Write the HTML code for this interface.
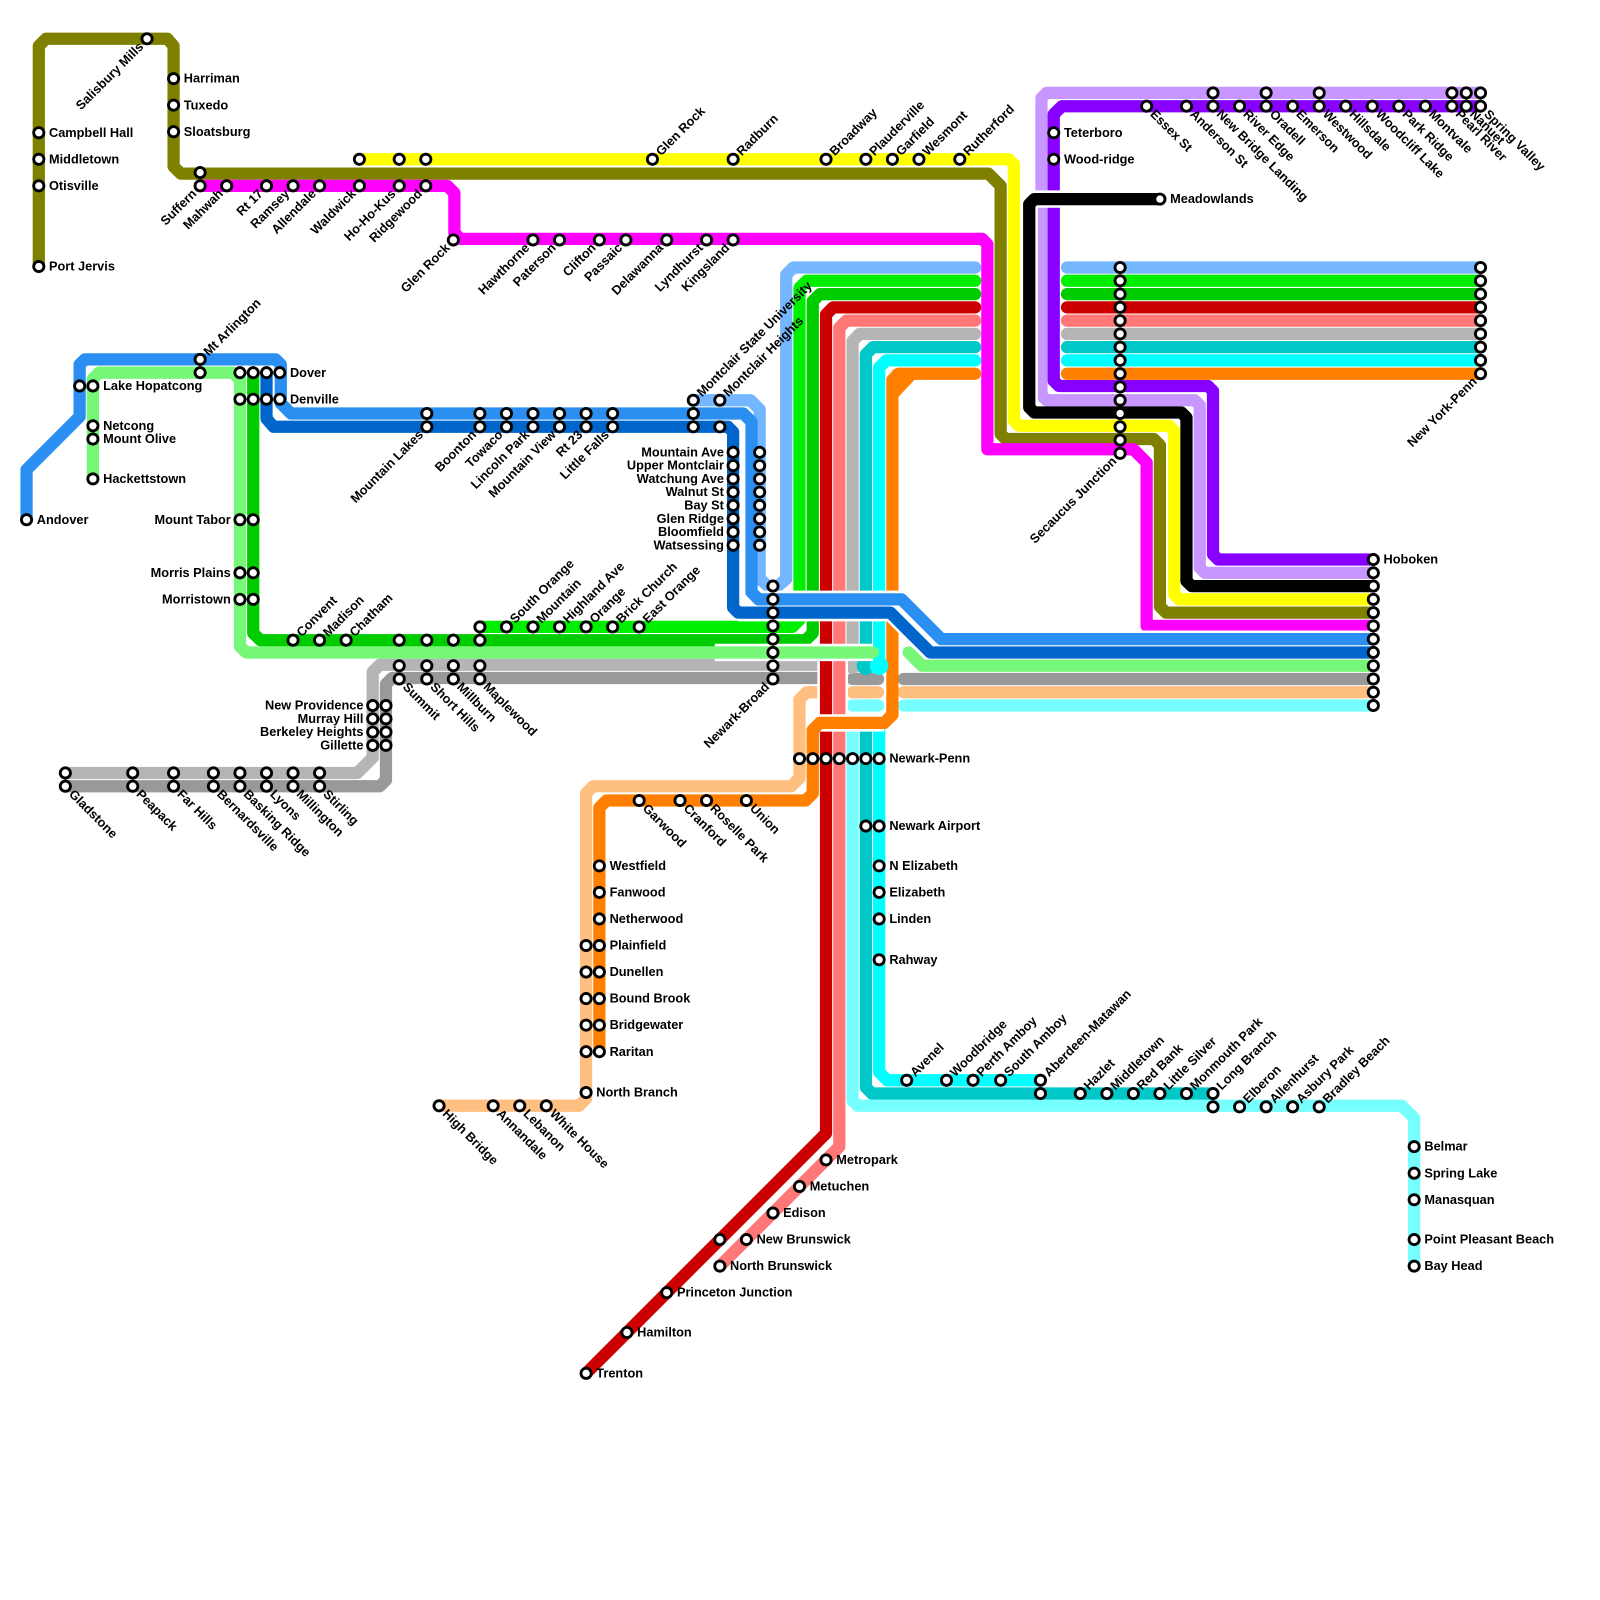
<!DOCTYPE html>
<html><head><meta charset="utf-8"><style>
html,body{margin:0;padding:0;background:#fff}
svg{display:block}
text{font-family:"Liberation Sans",sans-serif;font-weight:bold;font-size:12.5px;fill:#000}
.e{text-anchor:end}
.L path{fill:none;stroke-width:12;stroke-linecap:round;stroke-linejoin:round}
.C path{fill:none;stroke:#fff;stroke-width:17;stroke-linecap:butt;stroke-linejoin:round}
circle.s{fill:#fff;stroke:#000;stroke-width:2.8}
</style></head><body>
<svg width="1600" height="1600" viewBox="0 0 1567 1567" xmlns="http://www.w3.org/2000/svg">
<g class="L">
<path stroke="#808000" d="M38,261 V45 L45,38 H164 L170,45 V163 L177,170 H968 L980,182 V425 L985,430 H1130 L1136,436 V594 L1142,600 H1345"/>
<path stroke="#ffff00" d="M352,156 H988 L993,161 V412 L998,417 H1145 L1150,422 V582 L1155,587 H1345"/>
<path stroke="#ff00ff" d="M196,182 H438 L445,189 V228 L451,234 H962 L967,239 V440 H1110 L1123,453 V613 H1345"/>
<path stroke="#c896ff" d="M1450,91 H1025 L1020,96 V387 L1025,392 H1170 L1175,397 V556 L1180,561 H1345"/>
<path stroke="#8800ff" d="M1450,104 H1040 L1032,112 V373 L1037,378 H1183 L1188,383 V543 L1193,548 H1345"/>
<path stroke="#74b6ff" d="M1045,262 H1450"/>
<path stroke="#00ee00" d="M1045,275 H1450"/>
<path stroke="#00cc00" d="M1045,288 H1450"/>
<path stroke="#cc0000" d="M1045,301 H1450"/>
<path stroke="#ff7777" d="M1045,314 H1450"/>
<path stroke="#b5b5b5" d="M1045,327 H1450"/>
<path stroke="#00c8c8" d="M1045,340 H1450"/>
<path stroke="#00ffff" d="M1045,353 H1450"/>
<path stroke="#ff8000" d="M1045,366 H1450"/>
<path stroke="#b5b5b5" d="M64,757 H350 L365,742 V658 L372,651 H800"/>
<path stroke="#999999" d="M64,770 H372 L378,764 V670 L384,664 H800 M835,665 H860 M885,665 H1345"/>
<path stroke="#ffbf80" d="M1345,678 H885 M835,678 H860 M800,678 H790 L783,685 V762 L775,770 H581 L574,777 V1076 L567,1083 H430"/>
<path stroke="#77ffff" d="M1345,691 H885 M835,691 H860 M835,715 V1078 L840,1083 H1373 L1385,1095 V1240"/>
<path stroke="#00c8c8" d="M848,715 V1065 L854,1071 H1188"/>
<path stroke="#00ffff" d="M861,715 V1050 L869,1058 H1019"/>
<path stroke="#74b6ff" d="M955,262 H777 L770,269 V567 L757,578 M680,392 H735 L744,401 V567 L757,578"/>
<path stroke="#00ee00" d="M955,275 H790 L783,282 V607 L776,614 H470"/>
<path stroke="#00cc00" d="M955,288 H803 L796,295 V620 L789,627 H255 L248,620 V365"/>
<path stroke="#b5b5b5" d="M955,327 H842 L835,334 V645"/>
<path stroke="#00c8c8" d="M955,340 H855 L848,347 V645"/>
<path stroke="#00ffff" d="M955,353 H868 L861,360 V645"/>
<path stroke="#ff8000" d="M955,366 H880 L874,372 V700 L866,708 H803 L796,715 V777 L789,784 H594 L587,791 V1030"/>
</g>
<polygon points="874,362 905,362 874,395" fill="#ff8000"/>
<circle cx="835" cy="652" r="8" fill="#b5b5b5"/>
<circle cx="848" cy="652" r="9" fill="#00c8c8"/>
<circle cx="861" cy="652" r="9" fill="#00ffff"/>
<g class="C"><path d="M809,640 V700 M822,640 V700"/></g>
<g class="L">
<path stroke="#cc0000" d="M955,301 H816 L809,308 V1110 L574,1345"/>
<path stroke="#ff7777" d="M955,314 H829 L822,321 V1123 L705,1240"/>
</g>
<g class="C">
<path d="M736,587 H883 L922,626 H1345"/>
<path d="M723,600 H872 L911,639 H1345"/>
<path d="M700,639 H855"/>
<path d="M803,708 H866"/>
<path d="M1136,195 H1013 L1008,200 V399"/>
</g>
<g class="L">
<path stroke="#2a8ff0" d="M26,509 V460 L78,408 V357 L83,352 H270 L275,357 V395 L285,405 H728 L736,413 V580 L743,587 H883 L922,626 H1345"/>
<path stroke="#0066cc" d="M261,365 V410 L268,418 H713 L718,423 V595 L723,600 H872 L911,639 H1345"/>
<path stroke="#77f777" d="M91,469 V371 L97,365 H228 L235,372 V633 L241,639 H855 M890,639 L903,652 H1345"/>
<path stroke="#ff8000" d="M874,690 V700 L866,708 H803 L796,715 V730"/>
<path stroke="#000000" d="M1136,195 H1013 L1008,200 V399 L1013,404 H1157 L1162,409 V569 L1167,574 H1345"/>
</g>
<g>
<circle class="s" cx="38" cy="130" r="5"/><circle class="s" cx="38" cy="156" r="5"/><circle class="s" cx="38" cy="182" r="5"/><circle class="s" cx="38" cy="261" r="5"/><circle class="s" cx="144" cy="38" r="5"/><circle class="s" cx="170" cy="77" r="5"/><circle class="s" cx="170" cy="103" r="5"/><circle class="s" cx="170" cy="129" r="5"/><circle class="s" cx="196" cy="169" r="5"/><circle class="s" cx="196" cy="182" r="5"/>
<circle class="s" cx="222" cy="182" r="5"/><circle class="s" cx="261" cy="182" r="5"/><circle class="s" cx="287" cy="182" r="5"/><circle class="s" cx="313" cy="182" r="5"/><circle class="s" cx="352" cy="182" r="5"/><circle class="s" cx="391" cy="182" r="5"/><circle class="s" cx="417" cy="182" r="5"/><circle class="s" cx="352" cy="156" r="5"/><circle class="s" cx="391" cy="156" r="5"/><circle class="s" cx="417" cy="156" r="5"/>
<circle class="s" cx="444" cy="235" r="5"/><circle class="s" cx="522" cy="235" r="5"/><circle class="s" cx="548" cy="235" r="5"/><circle class="s" cx="587" cy="235" r="5"/><circle class="s" cx="613" cy="235" r="5"/><circle class="s" cx="653" cy="235" r="5"/><circle class="s" cx="692" cy="235" r="5"/><circle class="s" cx="718" cy="235" r="5"/>
<circle class="s" cx="639" cy="156" r="5"/><circle class="s" cx="718" cy="156" r="5"/><circle class="s" cx="809" cy="156" r="5"/><circle class="s" cx="848" cy="156" r="5"/><circle class="s" cx="874" cy="156" r="5"/><circle class="s" cx="900" cy="156" r="5"/><circle class="s" cx="940" cy="156" r="5"/>
<circle class="s" cx="1032" cy="130" r="5"/><circle class="s" cx="1032" cy="156" r="5"/><circle class="s" cx="1136" cy="195" r="5"/>
<circle class="s" cx="1123" cy="104" r="5"/><circle class="s" cx="1162" cy="104" r="5"/><circle class="s" cx="1188" cy="91" r="5"/><circle class="s" cx="1188" cy="104" r="5"/><circle class="s" cx="1214" cy="104" r="5"/><circle class="s" cx="1240" cy="91" r="5"/><circle class="s" cx="1240" cy="104" r="5"/><circle class="s" cx="1266" cy="104" r="5"/><circle class="s" cx="1292" cy="91" r="5"/><circle class="s" cx="1292" cy="104" r="5"/><circle class="s" cx="1318" cy="104" r="5"/><circle class="s" cx="1344" cy="104" r="5"/><circle class="s" cx="1370" cy="104" r="5"/><circle class="s" cx="1396" cy="104" r="5"/><circle class="s" cx="1422" cy="91" r="5"/><circle class="s" cx="1422" cy="104" r="5"/><circle class="s" cx="1436" cy="91" r="5"/><circle class="s" cx="1436" cy="104" r="5"/><circle class="s" cx="1450" cy="91" r="5"/><circle class="s" cx="1450" cy="104" r="5"/>
<circle class="s" cx="1450" cy="262" r="5"/><circle class="s" cx="1450" cy="275" r="5"/><circle class="s" cx="1450" cy="288" r="5"/><circle class="s" cx="1450" cy="301" r="5"/><circle class="s" cx="1450" cy="314" r="5"/><circle class="s" cx="1450" cy="327" r="5"/><circle class="s" cx="1450" cy="340" r="5"/><circle class="s" cx="1450" cy="353" r="5"/><circle class="s" cx="1450" cy="366" r="5"/>
<circle class="s" cx="1097" cy="262" r="5"/><circle class="s" cx="1097" cy="275" r="5"/><circle class="s" cx="1097" cy="288" r="5"/><circle class="s" cx="1097" cy="301" r="5"/><circle class="s" cx="1097" cy="314" r="5"/><circle class="s" cx="1097" cy="327" r="5"/><circle class="s" cx="1097" cy="340" r="5"/><circle class="s" cx="1097" cy="353" r="5"/><circle class="s" cx="1097" cy="366" r="5"/><circle class="s" cx="1097" cy="379" r="5"/><circle class="s" cx="1097" cy="392" r="5"/><circle class="s" cx="1097" cy="405" r="5"/><circle class="s" cx="1097" cy="418" r="5"/><circle class="s" cx="1097" cy="431" r="5"/><circle class="s" cx="1097" cy="444" r="5"/>
<circle class="s" cx="1345" cy="548" r="5"/><circle class="s" cx="1345" cy="561" r="5"/><circle class="s" cx="1345" cy="574" r="5"/><circle class="s" cx="1345" cy="587" r="5"/><circle class="s" cx="1345" cy="600" r="5"/><circle class="s" cx="1345" cy="613" r="5"/><circle class="s" cx="1345" cy="626" r="5"/><circle class="s" cx="1345" cy="639" r="5"/><circle class="s" cx="1345" cy="652" r="5"/><circle class="s" cx="1345" cy="665" r="5"/><circle class="s" cx="1345" cy="678" r="5"/><circle class="s" cx="1345" cy="691" r="5"/>
<circle class="s" cx="196" cy="352" r="5"/><circle class="s" cx="196" cy="365" r="5"/><circle class="s" cx="78" cy="378" r="5"/><circle class="s" cx="91" cy="378" r="5"/><circle class="s" cx="91" cy="417" r="5"/><circle class="s" cx="91" cy="430" r="5"/><circle class="s" cx="91" cy="469" r="5"/><circle class="s" cx="26" cy="509" r="5"/>
<circle class="s" cx="235" cy="365" r="5"/><circle class="s" cx="248" cy="365" r="5"/><circle class="s" cx="261" cy="365" r="5"/><circle class="s" cx="274" cy="365" r="5"/><circle class="s" cx="235" cy="391" r="5"/><circle class="s" cx="248" cy="391" r="5"/><circle class="s" cx="261" cy="391" r="5"/><circle class="s" cx="274" cy="391" r="5"/>
<circle class="s" cx="235" cy="509" r="5"/><circle class="s" cx="248" cy="509" r="5"/><circle class="s" cx="235" cy="561" r="5"/><circle class="s" cx="248" cy="561" r="5"/><circle class="s" cx="235" cy="587" r="5"/><circle class="s" cx="248" cy="587" r="5"/>
<circle class="s" cx="418" cy="405" r="5"/><circle class="s" cx="418" cy="418" r="5"/><circle class="s" cx="470" cy="405" r="5"/><circle class="s" cx="470" cy="418" r="5"/><circle class="s" cx="496" cy="405" r="5"/><circle class="s" cx="496" cy="418" r="5"/><circle class="s" cx="522" cy="405" r="5"/><circle class="s" cx="522" cy="418" r="5"/><circle class="s" cx="548" cy="405" r="5"/><circle class="s" cx="548" cy="418" r="5"/><circle class="s" cx="574" cy="405" r="5"/><circle class="s" cx="574" cy="418" r="5"/><circle class="s" cx="600" cy="405" r="5"/><circle class="s" cx="600" cy="418" r="5"/>
<circle class="s" cx="679" cy="392" r="5"/><circle class="s" cx="679" cy="405" r="5"/><circle class="s" cx="679" cy="418" r="5"/><circle class="s" cx="705" cy="392" r="5"/><circle class="s" cx="705" cy="418" r="5"/>
<circle class="s" cx="718" cy="443" r="5"/><circle class="s" cx="718" cy="456" r="5"/><circle class="s" cx="718" cy="469" r="5"/><circle class="s" cx="718" cy="482" r="5"/><circle class="s" cx="718" cy="495" r="5"/><circle class="s" cx="718" cy="508" r="5"/><circle class="s" cx="718" cy="521" r="5"/><circle class="s" cx="718" cy="534" r="5"/>
<circle class="s" cx="744" cy="443" r="5"/><circle class="s" cx="744" cy="456" r="5"/><circle class="s" cx="744" cy="469" r="5"/><circle class="s" cx="744" cy="482" r="5"/><circle class="s" cx="744" cy="495" r="5"/><circle class="s" cx="744" cy="508" r="5"/><circle class="s" cx="744" cy="521" r="5"/><circle class="s" cx="744" cy="534" r="5"/>
<circle class="s" cx="757" cy="574" r="5"/><circle class="s" cx="757" cy="587" r="5"/><circle class="s" cx="757" cy="600" r="5"/><circle class="s" cx="757" cy="613" r="5"/><circle class="s" cx="757" cy="626" r="5"/><circle class="s" cx="757" cy="639" r="5"/><circle class="s" cx="757" cy="652" r="5"/><circle class="s" cx="757" cy="665" r="5"/>
<circle class="s" cx="287" cy="627" r="5"/><circle class="s" cx="313" cy="627" r="5"/><circle class="s" cx="339" cy="627" r="5"/><circle class="s" cx="391" cy="627" r="5"/><circle class="s" cx="391" cy="652" r="5"/><circle class="s" cx="391" cy="665" r="5"/><circle class="s" cx="418" cy="627" r="5"/><circle class="s" cx="418" cy="652" r="5"/><circle class="s" cx="418" cy="665" r="5"/><circle class="s" cx="444" cy="627" r="5"/><circle class="s" cx="444" cy="652" r="5"/><circle class="s" cx="444" cy="665" r="5"/><circle class="s" cx="470" cy="614" r="5"/><circle class="s" cx="470" cy="627" r="5"/><circle class="s" cx="470" cy="652" r="5"/><circle class="s" cx="470" cy="665" r="5"/>
<circle class="s" cx="496" cy="614" r="5"/><circle class="s" cx="522" cy="614" r="5"/><circle class="s" cx="548" cy="614" r="5"/><circle class="s" cx="574" cy="614" r="5"/><circle class="s" cx="600" cy="614" r="5"/><circle class="s" cx="626" cy="614" r="5"/>
<circle class="s" cx="365" cy="691" r="5"/><circle class="s" cx="378" cy="691" r="5"/><circle class="s" cx="365" cy="704" r="5"/><circle class="s" cx="378" cy="704" r="5"/><circle class="s" cx="365" cy="717" r="5"/><circle class="s" cx="378" cy="717" r="5"/><circle class="s" cx="365" cy="730" r="5"/><circle class="s" cx="378" cy="730" r="5"/>
<circle class="s" cx="64" cy="757" r="5"/><circle class="s" cx="64" cy="770" r="5"/><circle class="s" cx="130" cy="757" r="5"/><circle class="s" cx="130" cy="770" r="5"/><circle class="s" cx="170" cy="757" r="5"/><circle class="s" cx="170" cy="770" r="5"/><circle class="s" cx="209" cy="757" r="5"/><circle class="s" cx="209" cy="770" r="5"/><circle class="s" cx="235" cy="757" r="5"/><circle class="s" cx="235" cy="770" r="5"/><circle class="s" cx="261" cy="757" r="5"/><circle class="s" cx="261" cy="770" r="5"/><circle class="s" cx="287" cy="757" r="5"/><circle class="s" cx="287" cy="770" r="5"/><circle class="s" cx="313" cy="757" r="5"/><circle class="s" cx="313" cy="770" r="5"/>
<circle class="s" cx="783" cy="743" r="5"/><circle class="s" cx="796" cy="743" r="5"/><circle class="s" cx="809" cy="743" r="5"/><circle class="s" cx="822" cy="743" r="5"/><circle class="s" cx="835" cy="743" r="5"/><circle class="s" cx="848" cy="743" r="5"/><circle class="s" cx="861" cy="743" r="5"/>
<circle class="s" cx="848" cy="809" r="5"/><circle class="s" cx="861" cy="809" r="5"/><circle class="s" cx="861" cy="848" r="5"/><circle class="s" cx="861" cy="874" r="5"/><circle class="s" cx="861" cy="900" r="5"/><circle class="s" cx="861" cy="940" r="5"/>
<circle class="s" cx="626" cy="784" r="5"/><circle class="s" cx="666" cy="784" r="5"/><circle class="s" cx="692" cy="784" r="5"/><circle class="s" cx="731" cy="784" r="5"/>
<circle class="s" cx="587" cy="848" r="5"/><circle class="s" cx="587" cy="874" r="5"/><circle class="s" cx="587" cy="900" r="5"/><circle class="s" cx="587" cy="926" r="5"/><circle class="s" cx="587" cy="952" r="5"/><circle class="s" cx="587" cy="978" r="5"/><circle class="s" cx="587" cy="1004" r="5"/><circle class="s" cx="587" cy="1030" r="5"/>
<circle class="s" cx="574" cy="926" r="5"/><circle class="s" cx="574" cy="952" r="5"/><circle class="s" cx="574" cy="978" r="5"/><circle class="s" cx="574" cy="1004" r="5"/><circle class="s" cx="574" cy="1030" r="5"/><circle class="s" cx="574" cy="1070" r="5"/>
<circle class="s" cx="430" cy="1083" r="5"/><circle class="s" cx="483" cy="1083" r="5"/><circle class="s" cx="509" cy="1083" r="5"/><circle class="s" cx="535" cy="1083" r="5"/>
<circle class="s" cx="809" cy="1136" r="5"/><circle class="s" cx="783" cy="1162" r="5"/><circle class="s" cx="757" cy="1188" r="5"/><circle class="s" cx="731" cy="1214" r="5"/><circle class="s" cx="705" cy="1214" r="5"/><circle class="s" cx="705" cy="1240" r="5"/><circle class="s" cx="653" cy="1266" r="5"/><circle class="s" cx="614" cy="1305" r="5"/><circle class="s" cx="574" cy="1345" r="5"/>
<circle class="s" cx="888" cy="1058" r="5"/><circle class="s" cx="927" cy="1058" r="5"/><circle class="s" cx="953" cy="1058" r="5"/><circle class="s" cx="980" cy="1058" r="5"/><circle class="s" cx="1019" cy="1058" r="5"/><circle class="s" cx="1019" cy="1071" r="5"/>
<circle class="s" cx="1058" cy="1071" r="5"/><circle class="s" cx="1084" cy="1071" r="5"/><circle class="s" cx="1110" cy="1071" r="5"/><circle class="s" cx="1136" cy="1071" r="5"/><circle class="s" cx="1162" cy="1071" r="5"/><circle class="s" cx="1188" cy="1071" r="5"/><circle class="s" cx="1188" cy="1084" r="5"/>
<circle class="s" cx="1214" cy="1084" r="5"/><circle class="s" cx="1240" cy="1084" r="5"/><circle class="s" cx="1266" cy="1084" r="5"/><circle class="s" cx="1292" cy="1084" r="5"/>
<circle class="s" cx="1385" cy="1123" r="5"/><circle class="s" cx="1385" cy="1149" r="5"/><circle class="s" cx="1385" cy="1175" r="5"/><circle class="s" cx="1385" cy="1214" r="5"/><circle class="s" cx="1385" cy="1240" r="5"/>
</g>
<g>
<text x="48" y="134">Campbell Hall</text><text x="48" y="160">Middletown</text><text x="48" y="186">Otisville</text><text x="48" y="265">Port Jervis</text>
<text x="180" y="81">Harriman</text><text x="180" y="107">Tuxedo</text><text x="180" y="133">Sloatsburg</text>
<text x="1042" y="134">Teterboro</text><text x="1042" y="160">Wood-ridge</text><text x="1146" y="199">Meadowlands</text>
<text x="1355" y="552">Hoboken</text>
<text x="101" y="382">Lake Hopatcong</text><text x="101" y="421">Netcong</text><text x="101" y="434">Mount Olive</text><text x="101" y="473">Hackettstown</text><text x="36" y="513">Andover</text>
<text x="284" y="369">Dover</text><text x="284" y="395">Denville</text>
<text x="871" y="747">Newark-Penn</text><text x="871" y="813">Newark Airport</text><text x="871" y="852">N Elizabeth</text><text x="871" y="878">Elizabeth</text><text x="871" y="904">Linden</text><text x="871" y="944">Rahway</text>
<text x="597" y="852">Westfield</text><text x="597" y="878">Fanwood</text><text x="597" y="904">Netherwood</text><text x="597" y="930">Plainfield</text><text x="597" y="956">Dunellen</text><text x="597" y="982">Bound Brook</text><text x="597" y="1008">Bridgewater</text><text x="597" y="1034">Raritan</text><text x="584" y="1074">North Branch</text>
<text x="819" y="1140">Metropark</text><text x="793" y="1166">Metuchen</text><text x="767" y="1192">Edison</text><text x="741" y="1218">New Brunswick</text><text x="715" y="1244">North Brunswick</text><text x="663" y="1270">Princeton Junction</text><text x="624" y="1309">Hamilton</text><text x="584" y="1349">Trenton</text>
<text x="1395" y="1127">Belmar</text><text x="1395" y="1153">Spring Lake</text><text x="1395" y="1179">Manasquan</text><text x="1395" y="1218">Point Pleasant Beach</text><text x="1395" y="1244">Bay Head</text>
</g>
<g class="e">
<text x="226" y="513">Mount Tabor</text><text x="226" y="565">Morris Plains</text><text x="226" y="591">Morristown</text>
<text x="709" y="447">Mountain Ave</text><text x="709" y="460">Upper Montclair</text><text x="709" y="473">Watchung Ave</text><text x="709" y="486">Walnut St</text><text x="709" y="499">Bay St</text><text x="709" y="512">Glen Ridge</text><text x="709" y="525">Bloomfield</text><text x="709" y="538">Watsessing</text>
<text x="356" y="695">New Providence</text><text x="356" y="708">Murray Hill</text><text x="356" y="721">Berkeley Heights</text><text x="356" y="734">Gillette</text>
</g>
<g class="e">
<text transform="translate(144,38) rotate(-45)" x="-8" y="4">Salisbury Mills</text>
<text transform="translate(196,182) rotate(-45)" x="-8" y="4">Suffern</text>
<text transform="translate(222,182) rotate(-45)" x="-8" y="4">Mahwah</text>
<text transform="translate(261,182) rotate(-45)" x="-8" y="4">Rt 17</text>
<text transform="translate(287,182) rotate(-45)" x="-8" y="4">Ramsey</text>
<text transform="translate(313,182) rotate(-45)" x="-8" y="4">Allendale</text>
<text transform="translate(352,182) rotate(-45)" x="-8" y="4">Waldwick</text>
<text transform="translate(391,182) rotate(-45)" x="-8" y="4">Ho-Ho-Kus</text>
<text transform="translate(417,182) rotate(-45)" x="-8" y="4">Ridgewood</text>
<text transform="translate(444,235) rotate(-45)" x="-8" y="4">Glen Rock</text>
<text transform="translate(522,235) rotate(-45)" x="-8" y="4">Hawthorne</text>
<text transform="translate(548,235) rotate(-45)" x="-8" y="4">Paterson</text>
<text transform="translate(587,235) rotate(-45)" x="-8" y="4">Clifton</text>
<text transform="translate(613,235) rotate(-45)" x="-8" y="4">Passaic</text>
<text transform="translate(653,235) rotate(-45)" x="-8" y="4">Delawanna</text>
<text transform="translate(692,235) rotate(-45)" x="-8" y="4">Lyndhurst</text>
<text transform="translate(718,235) rotate(-45)" x="-8" y="4">Kingsland</text>
<text transform="translate(1450,366) rotate(-45)" x="-8" y="4">New York-Penn</text>
<text transform="translate(1097,444) rotate(-45)" x="-8" y="4">Secaucus Junction</text>
<text transform="translate(418,418) rotate(-45)" x="-8" y="4">Mountain Lakes</text>
<text transform="translate(470,418) rotate(-45)" x="-8" y="4">Boonton</text>
<text transform="translate(496,418) rotate(-45)" x="-8" y="4">Towaco</text>
<text transform="translate(522,418) rotate(-45)" x="-8" y="4">Lincoln Park</text>
<text transform="translate(548,418) rotate(-45)" x="-8" y="4">Mountain View</text>
<text transform="translate(574,418) rotate(-45)" x="-8" y="4">Rt 23</text>
<text transform="translate(600,418) rotate(-45)" x="-8" y="4">Little Falls</text>
<text transform="translate(757,665) rotate(-45)" x="-8" y="4">Newark-Broad</text>
</g>
<g>
<text transform="translate(639,156) rotate(-45)" x="8" y="4">Glen Rock</text>
<text transform="translate(718,156) rotate(-45)" x="8" y="4">Radburn</text>
<text transform="translate(809,156) rotate(-45)" x="8" y="4">Broadway</text>
<text transform="translate(848,156) rotate(-45)" x="8" y="4">Plauderville</text>
<text transform="translate(874,156) rotate(-45)" x="8" y="4">Garfield</text>
<text transform="translate(900,156) rotate(-45)" x="8" y="4">Wesmont</text>
<text transform="translate(940,156) rotate(-45)" x="8" y="4">Rutherford</text>
<text transform="translate(196,352) rotate(-45)" x="8" y="4">Mt Arlington</text>
<text transform="translate(679,392) rotate(-45)" x="8" y="4">Montclair State University</text>
<text transform="translate(705,392) rotate(-45)" x="8" y="4">Montclair Heights</text>
<text transform="translate(287,627) rotate(-45)" x="8" y="4">Convent</text>
<text transform="translate(313,627) rotate(-45)" x="8" y="4">Madison</text>
<text transform="translate(339,627) rotate(-45)" x="8" y="4">Chatham</text>
<text transform="translate(496,614) rotate(-45)" x="8" y="4">South Orange</text>
<text transform="translate(522,614) rotate(-45)" x="8" y="4">Mountain</text>
<text transform="translate(548,614) rotate(-45)" x="8" y="4">Highland Ave</text>
<text transform="translate(574,614) rotate(-45)" x="8" y="4">Orange</text>
<text transform="translate(600,614) rotate(-45)" x="8" y="4">Brick Church</text>
<text transform="translate(626,614) rotate(-45)" x="8" y="4">East Orange</text>
<text transform="translate(888,1058) rotate(-45)" x="8" y="4">Avenel</text>
<text transform="translate(927,1058) rotate(-45)" x="8" y="4">Woodbridge</text>
<text transform="translate(953,1058) rotate(-45)" x="8" y="4">Perth Amboy</text>
<text transform="translate(980,1058) rotate(-45)" x="8" y="4">South Amboy</text>
<text transform="translate(1019,1058) rotate(-45)" x="8" y="4">Aberdeen-Matawan</text>
<text transform="translate(1058,1071) rotate(-45)" x="8" y="4">Hazlet</text>
<text transform="translate(1084,1071) rotate(-45)" x="8" y="4">Middletown</text>
<text transform="translate(1110,1071) rotate(-45)" x="8" y="4">Red Bank</text>
<text transform="translate(1136,1071) rotate(-45)" x="8" y="4">Little Silver</text>
<text transform="translate(1162,1071) rotate(-45)" x="8" y="4">Monmouth Park</text>
<text transform="translate(1188,1071) rotate(-45)" x="8" y="4">Long Branch</text>
<text transform="translate(1214,1084) rotate(-45)" x="8" y="4">Elberon</text>
<text transform="translate(1240,1084) rotate(-45)" x="8" y="4">Allenhurst</text>
<text transform="translate(1266,1084) rotate(-45)" x="8" y="4">Asbury Park</text>
<text transform="translate(1292,1084) rotate(-45)" x="8" y="4">Bradley Beach</text>
</g>
<g>
<text transform="translate(1123,104) rotate(45)" x="8" y="4">Essex St</text>
<text transform="translate(1162,104) rotate(45)" x="8" y="4">Anderson St</text>
<text transform="translate(1188,104) rotate(45)" x="8" y="4">New Bridge Landing</text>
<text transform="translate(1214,104) rotate(45)" x="8" y="4">River Edge</text>
<text transform="translate(1240,104) rotate(45)" x="8" y="4">Oradell</text>
<text transform="translate(1266,104) rotate(45)" x="8" y="4">Emerson</text>
<text transform="translate(1292,104) rotate(45)" x="8" y="4">Westwood</text>
<text transform="translate(1318,104) rotate(45)" x="8" y="4">Hillsdale</text>
<text transform="translate(1344,104) rotate(45)" x="8" y="4">Woodcliff Lake</text>
<text transform="translate(1370,104) rotate(45)" x="8" y="4">Park Ridge</text>
<text transform="translate(1396,104) rotate(45)" x="8" y="4">Montvale</text>
<text transform="translate(1422,104) rotate(45)" x="8" y="4">Pearl River</text>
<text transform="translate(1436,104) rotate(45)" x="8" y="4">Nanuet</text>
<text transform="translate(1450,104) rotate(45)" x="8" y="4">Spring Valley</text>
<text transform="translate(391,665) rotate(45)" x="8" y="4">Summit</text>
<text transform="translate(418,665) rotate(45)" x="8" y="4">Short Hills</text>
<text transform="translate(444,665) rotate(45)" x="8" y="4">Millburn</text>
<text transform="translate(470,665) rotate(45)" x="8" y="4">Maplewood</text>
<text transform="translate(64,770) rotate(45)" x="8" y="4">Gladstone</text>
<text transform="translate(130,770) rotate(45)" x="8" y="4">Peapack</text>
<text transform="translate(170,770) rotate(45)" x="8" y="4">Far Hills</text>
<text transform="translate(209,770) rotate(45)" x="8" y="4">Bernardsville</text>
<text transform="translate(235,770) rotate(45)" x="8" y="4">Basking Ridge</text>
<text transform="translate(261,770) rotate(45)" x="8" y="4">Lyons</text>
<text transform="translate(287,770) rotate(45)" x="8" y="4">Millington</text>
<text transform="translate(313,770) rotate(45)" x="8" y="4">Stirling</text>
<text transform="translate(626,784) rotate(45)" x="8" y="4">Garwood</text>
<text transform="translate(666,784) rotate(45)" x="8" y="4">Cranford</text>
<text transform="translate(692,784) rotate(45)" x="8" y="4">Roselle Park</text>
<text transform="translate(731,784) rotate(45)" x="8" y="4">Union</text>
<text transform="translate(430,1083) rotate(45)" x="8" y="4">High Bridge</text>
<text transform="translate(483,1083) rotate(45)" x="8" y="4">Annandale</text>
<text transform="translate(509,1083) rotate(45)" x="8" y="4">Lebanon</text>
<text transform="translate(535,1083) rotate(45)" x="8" y="4">White House</text>
</g>
</svg>
</body></html>
